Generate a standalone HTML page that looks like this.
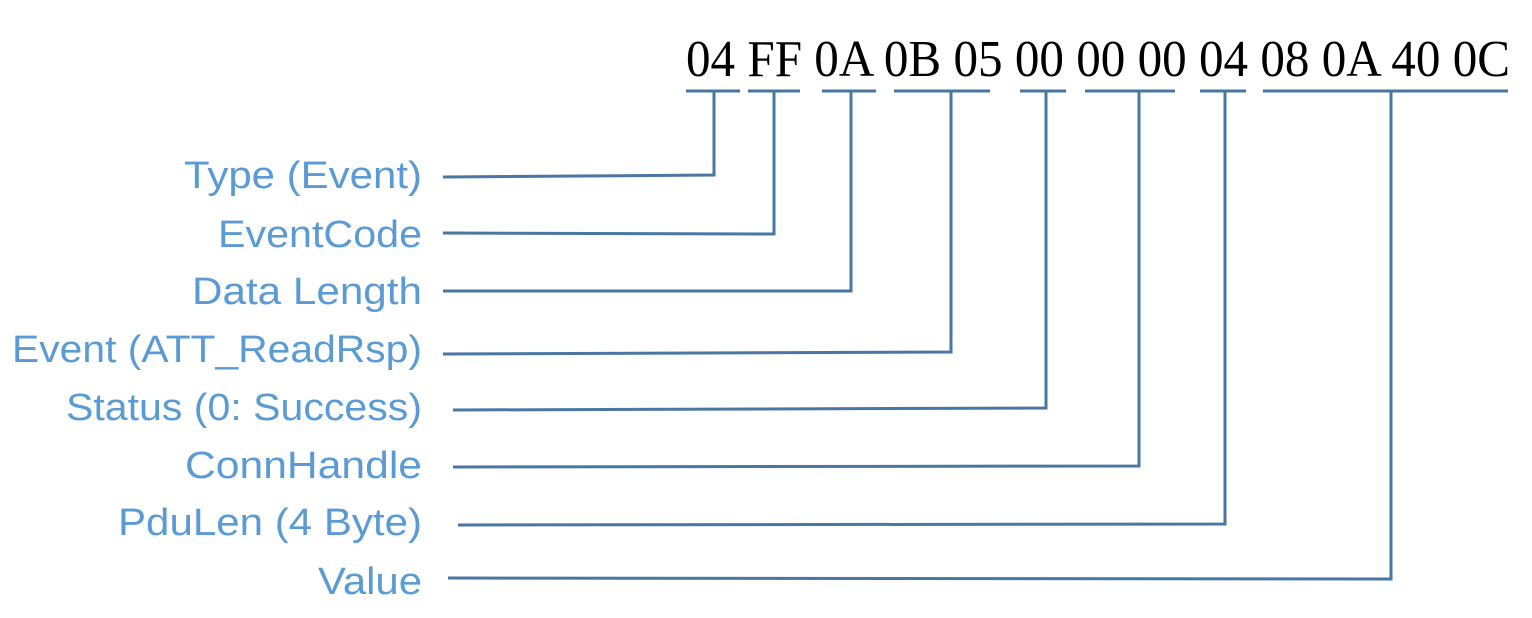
<!DOCTYPE html>
<html><head><meta charset="utf-8"><style>
html,body{margin:0;padding:0;background:#fff;width:1532px;height:618px;overflow:hidden}
</style></head><body>
<svg width="1532" height="618" xmlns="http://www.w3.org/2000/svg">
<g font-family="Liberation Serif, serif" font-size="52" fill="#000">
<text x="686" y="76" textLength="824" lengthAdjust="spacingAndGlyphs">04 FF 0A 0B 05 00 00 00 04 08 0A 40 0C</text>
</g>
<g stroke="#4a76a2" stroke-width="3" fill="none">
<line x1="686" y1="91" x2="740" y2="91"/>
<line x1="748" y1="91" x2="800" y2="91"/>
<line x1="822" y1="91" x2="876" y2="91"/>
<line x1="894" y1="91" x2="990" y2="91"/>
<line x1="1020" y1="91" x2="1066" y2="91"/>
<line x1="1085" y1="91" x2="1175" y2="91"/>
<line x1="1200" y1="91" x2="1246" y2="91"/>
<line x1="1263" y1="91" x2="1508" y2="91"/>
<polyline points="443,177 714,175 714,91"/>
<polyline points="443,233 774,234 774,91"/>
<polyline points="443,291 851,291 851,91"/>
<polyline points="443,354 951,352 951,91"/>
<polyline points="453,410 1046,408 1046,91"/>
<polyline points="453,467 1139,466 1139,91"/>
<polyline points="458,525 1225,524 1225,91"/>
<polyline points="448,578 1391,579 1391,91"/>
</g>
<g font-family="Liberation Sans, sans-serif" font-size="38" fill="#5b9bd5" text-anchor="end">
<text x="422" y="188" textLength="238" lengthAdjust="spacingAndGlyphs">Type (Event)</text>
<text x="422" y="247" textLength="204" lengthAdjust="spacingAndGlyphs">EventCode</text>
<text x="422" y="304" textLength="230" lengthAdjust="spacingAndGlyphs">Data Length</text>
<text x="422" y="362" textLength="410" lengthAdjust="spacingAndGlyphs">Event (ATT_ReadRsp)</text>
<text x="422" y="420" textLength="356" lengthAdjust="spacingAndGlyphs">Status (0: Success)</text>
<text x="422" y="478" textLength="237" lengthAdjust="spacingAndGlyphs">ConnHandle</text>
<text x="422" y="535" textLength="304" lengthAdjust="spacingAndGlyphs">PduLen (4 Byte)</text>
<text x="422" y="594" textLength="104" lengthAdjust="spacingAndGlyphs">Value</text>
</g>
</svg>
</body></html>
